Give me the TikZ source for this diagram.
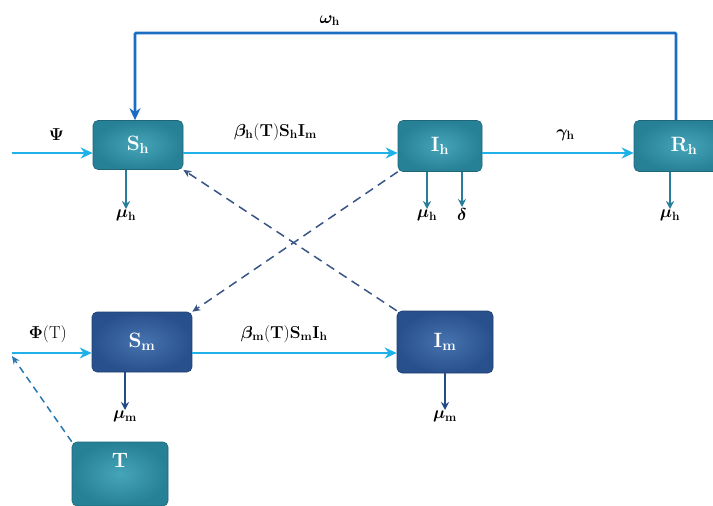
\documentclass[tikz,border=0pt]{standalone}
\usepackage{amsmath,amssymb}
\usepackage{bm}
\usetikzlibrary{arrows,arrows.meta,calc}

\definecolor{hbox}{RGB}{38,128,150}
\definecolor{hboxin}{RGB}{70,165,185}
\definecolor{mbox}{RGB}{40,80,140}
\definecolor{mboxin}{RGB}{70,115,175}
\definecolor{flow}{RGB}{30,178,232}
\definecolor{back}{RGB}{25,110,195}
\definecolor{hout}{RGB}{40,125,155}
\definecolor{mout}{RGB}{35,75,135}
\definecolor{dash}{RGB}{55,85,135}
\definecolor{tdash}{RGB}{40,120,175}

\begin{document}
\begin{tikzpicture}[x=1pt,y=-1pt,>={Stealth[length=12pt,width=11pt]},semithick,font=\bfseries]
  \tikzstyle{hcomp}=[rectangle,rounded corners=5pt,draw=hbox!80!black,inner color=hboxin,outer color=hbox,text=white,font=\huge\bfseries]
  \tikzstyle{mcomp}=[rectangle,rounded corners=5pt,draw=mbox!80!black,inner color=mboxin,outer color=mbox,text=white,font=\huge\bfseries]
  \tikzstyle{flow}=[->,draw=flow,line width=2.6pt]
  \tikzstyle{hloss}=[-{Stealth[length=8pt,width=8pt]},draw=hout,line width=1.8pt]
  \tikzstyle{mloss}=[-{Stealth[length=8pt,width=8pt]},draw=mout,line width=1.8pt]
  \tikzstyle{bite}=[-{Stealth[length=8pt,width=7pt]},draw=dash,line width=1.5pt,dash pattern=on 9pt off 6pt]
  \tikzstyle{rate}=[inner sep=1pt,font=\LARGE]

  \useasboundingbox (0,0) rectangle (713,506);

  % compartments
  \node[hcomp,minimum width=90pt,minimum height=49pt] (Sh) at (138,145) {$\mathbf{S_h}$};
  \node[hcomp,minimum width=84pt,minimum height=51pt] (Ih) at (440,146) {$\mathbf{I_h}$};
  \node[hcomp,minimum width=100pt,minimum height=51pt] (Rh) at (684,146) {$\mathbf{R_h}$};
  \node[mcomp,minimum width=100pt,minimum height=60pt] (Sm) at (142,342) {$\mathbf{S_m}$};
  \node[mcomp,minimum width=96pt,minimum height=62pt] (Im) at (445,342) {$\mathbf{I_m}$};
  \node[hcomp,minimum width=96pt,minimum height=64pt,
        label={[anchor=north,text=white,font=\huge\bfseries,yshift=-8pt]north:$\mathbf{T}$}] (T) at (120,474) {};

  % free ends
  \coordinate (psi) at (12,153);
  \coordinate (phi) at (12,353);
  \coordinate (wl) at (135,33);
  \coordinate (wr) at (676,33);

  % outflow labels
  \node[rate,anchor=north] (muSh) at (126,209) {$\bm{\mu}_{\mathbf h}$};
  \node[rate,anchor=north] (muIh) at (427,209) {$\bm{\mu}_{\mathbf h}$};
  \node[rate,anchor=north] (dIh)  at (462,207) {$\bm{\delta}$};
  \node[rate,anchor=north] (muRh) at (670,209) {$\bm{\mu}_{\mathbf h}$};
  \node[rate,anchor=north] (muSm) at (125,410) {$\bm{\mu}_{\mathbf m}$};
  \node[rate,anchor=north] (muIm) at (445,410) {$\bm{\mu}_{\mathbf m}$};

  % main flows
  \draw[flow] (psi) -- (psi -| Sh.west) node[rate,pos=0.55,above=10pt] {$\bm{\Psi}$};
  \draw[flow] (Sh.east |- psi) -- (Ih.west |- psi) node[rate,pos=0.43,above=10pt] {$\bm{\beta}_{\mathbf h}\mathbf{(T)S_hI_m}$};
  \draw[flow] (Ih.east |- psi) -- (Rh.west |- psi) node[rate,pos=0.55,above=10pt] {$\bm{\gamma}_{\mathbf h}$};
  \draw[flow] (phi) -- (phi -| Sm.west) node[rate,pos=0.45,above=8pt] {$\bm{\Phi}$(T)};
  \draw[flow] (Sm.east |- phi) -- (Im.west |- phi) node[rate,pos=0.45,above=8pt] {$\bm{\beta}_{\mathbf m}\mathbf{(T)S_mI_h}$};

  % waning immunity
  \draw[->,draw=back,line width=2.6pt,rounded corners=1pt] (Rh.north -| wr) -- (wr) -- (wl)
    node[rate,pos=0.64,above=5pt,text=black] {$\bm{\omega}_{\mathbf h}$} -- (Sh.north -| wl);

  % deaths
  \draw[hloss] (Sh.south -| muSh.north) -- (muSh.north);
  \draw[hloss] (Ih.south -| muIh.north) -- (muIh.north);
  \draw[hloss] (Ih.south -| dIh.north) -- (dIh.north);
  \draw[hloss] (Rh.south -| muRh.north) -- (muRh.north);
  \draw[mloss] (Sm.south -| muSm.north) -- (muSm.north);
  \draw[mloss] (Im.south -| muIm.north) -- (muIm.north);

  % transmission
  \draw[bite] (Ih.south west) -- (Sm.north east);
  \draw[bite] (Im.north west) -- (Sh.south east);
  \draw[bite,draw=tdash,dash pattern=on 7pt off 5pt] (T.north west) -- ($(phi)+(0,3)$);
\end{tikzpicture}
\end{document}
